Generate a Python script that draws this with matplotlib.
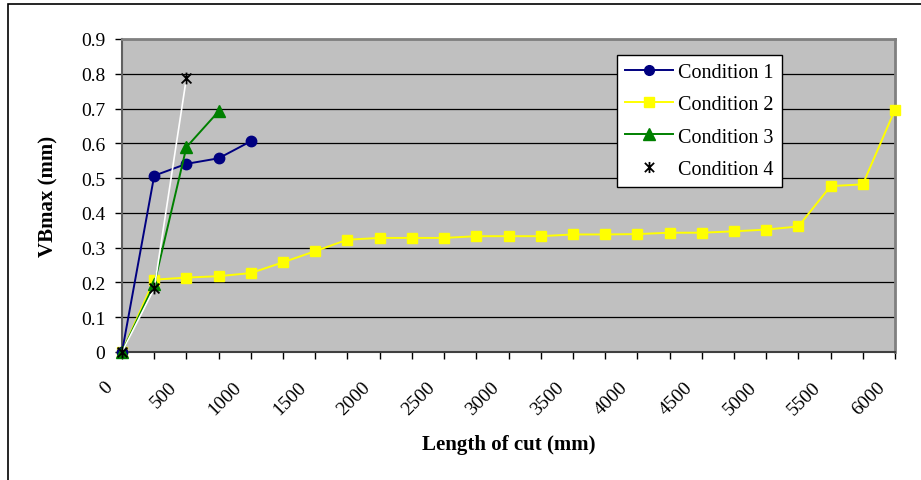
import numpy as np
import matplotlib.pyplot as plt
from matplotlib.path import Path
from matplotlib.lines import Line2D
from matplotlib.transforms import ScaledTranslation

plt.rcParams['font.family'] = ['Liberation Serif', 'DejaVu Serif']

# length of cut (mm) for each condition
x_c1 = [0, 250, 500, 750, 1000]
vb_c1 = [0, 0.507, 0.541, 0.557, 0.606]

x_c2 = list(range(0, 6001, 250))
vb_c2 = [0, 0.208, 0.214, 0.218, 0.227, 0.258, 0.290, 0.323, 0.328, 0.328,
         0.328, 0.333, 0.333, 0.333, 0.338, 0.338, 0.339, 0.343, 0.343, 0.347,
         0.352, 0.361, 0.477, 0.482, 0.697]

x_c3 = [0, 250, 500, 750]
vb_c3 = [0, 0.195, 0.589, 0.692]

x_c4 = [0, 250, 500]
vb_c4 = [0, 0.183, 0.788]

labels = ["Condition 1", "Condition 2", "Condition 3", "Condition 4"]
x_ticks = list(range(0, 6001, 500))
y_ticks = [0, 0.1, 0.2, 0.3, 0.4, 0.5, 0.6, 0.7, 0.8, 0.9]

# excel style star: an x with a vertical bar
star = Path([(-1, -1), (1, 1), (-1, 1), (1, -1), (0, -1.2), (0, 1.2)],
            [Path.MOVETO, Path.LINETO, Path.MOVETO, Path.LINETO, Path.MOVETO, Path.LINETO])

fig = plt.figure(figsize=(9.21, 4.81), dpi=100)
ax = fig.add_axes([122 / 921, 1 - 353 / 481, (895 - 122) / 921, (353 - 40) / 481])
ax.set_facecolor('#c0c0c0')

ax.plot(x_c1, vb_c1, color='#000080', lw=1.4, marker='o', ms=7.5, clip_on=False, zorder=5)
ax.plot(x_c2, vb_c2, color='#ffff00', lw=1.4, marker='s', ms=7.5, clip_on=False, zorder=4)
ax.plot(x_c3, vb_c3, color='#008000', lw=1.4, marker='^', ms=8.5, clip_on=False, zorder=6)
ax.plot(x_c4, vb_c4, color='white', lw=1.2, marker=star, ms=8.5, mec='black', mfc='none',
        mew=1.3, clip_on=False, zorder=7)

ax.set_xlim(0, 6000)
ax.set_ylim(0, 0.9)
ax.set_yticks(y_ticks)
ax.set_yticklabels(["0"] + [f"{v:.1f}" for v in y_ticks[1:]])
ax.set_xticks(x_ticks)
ax.set_xticks(range(250, 6000, 500), minor=True)
ax.set_xticklabels([str(v) for v in x_ticks], rotation=45, ha='right', va='center',
                   rotation_mode='anchor')
ax.tick_params(axis='both', which='both', direction='out', length=5, width=1,
               color='black', labelsize=14)
ax.tick_params(axis='x', pad=18)
ax.tick_params(axis='y', pad=7)

# shift rotated labels left so their ends sit just before the tick
shift = ScaledTranslation(-12 / 100, 0, fig.dpi_scale_trans)
for lbl in ax.get_xticklabels():
    lbl.set_transform(lbl.get_transform() + shift)

ax.grid(axis='y', color='black', lw=0.9)
ax.set_axisbelow(True)

for side in ['top', 'right']:
    ax.spines[side].set_color('#808080')
    ax.spines[side].set_linewidth(2)
ax.spines['left'].set_color('#606060')
ax.spines['left'].set_linewidth(1.5)
ax.spines['bottom'].set_color('#404040')
ax.spines['bottom'].set_linewidth(1.5)

ax.set_xlabel("Length of cut (mm)", fontsize=15, fontweight='bold', labelpad=12)
ax.set_ylabel("VBmax (mm)", fontsize=15, fontweight='bold', labelpad=16)

handles = [
    Line2D([], [], color='#000080', lw=1.4, marker='o', ms=7),
    Line2D([], [], color='#ffff00', lw=1.4, marker='s', ms=7),
    Line2D([], [], color='#008000', lw=1.4, marker='^', ms=8),
    Line2D([], [], color='white', lw=0, marker=star, ms=8, mec='black', mfc='none', mew=1.3),
]
leg = ax.legend(handles, labels, loc='upper left', bbox_to_anchor=(617 / 921, 1 - 56 / 481),
                bbox_transform=fig.transFigure, fontsize=14.5, frameon=True, fancybox=False,
                edgecolor='black', framealpha=1, handlelength=2.4, labelspacing=0.65,
                borderpad=0.4, handletextpad=0.25, borderaxespad=0)
leg.get_frame().set_linewidth(1)

# outer chart border
fig.add_artist(plt.Rectangle((8 / 921, -0.1), 2, 1 - 5 / 481 + 0.1, transform=fig.transFigure,
                             fill=False, edgecolor='black', lw=1.2))

fig.savefig("out.png", dpi=100)
